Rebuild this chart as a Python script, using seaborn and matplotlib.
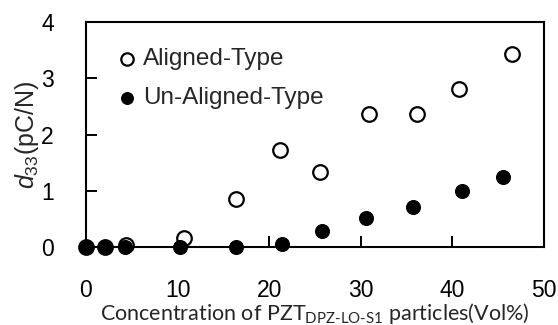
import pandas as pd
import matplotlib.pyplot as plt
import seaborn as sns

# values
aligned_x = [0, 2.1, 4.4, 10.7, 16.4, 21.2, 25.6, 30.9, 36.1, 40.7, 46.5]
aligned_y = [0, 0, 0.04, 0.16, 0.85, 1.72, 1.34, 2.37, 2.37, 2.81, 3.44]
unaligned_x = [0, 2.1, 4.3, 10.3, 16.4, 21.4, 25.8, 30.6, 35.7, 41.0, 45.5]
unaligned_y = [0, 0, 0, 0, 0, 0.06, 0.29, 0.51, 0.72, 1.0, 1.24]

x_ticks = [0, 10, 20, 30, 40, 50]
y_ticks = [0, 1, 2, 3, 4]

aligned = pd.DataFrame({'conc': aligned_x, 'd33': aligned_y})
unaligned = pd.DataFrame({'conc': unaligned_x, 'd33': unaligned_y})

sns.set_style('ticks')
plt.rcParams['font.family'] = ['Liberation Sans', 'DejaVu Sans']
plt.rcParams['mathtext.fontset'] = 'custom'
plt.rcParams['mathtext.rm'] = 'Lato'
plt.rcParams['mathtext.sf'] = 'Liberation Sans'
plt.rcParams['mathtext.it'] = 'Liberation Sans:italic'

fig = plt.figure(figsize=(5.58, 3.25), dpi=100)
ax = fig.add_axes([0.154, 0.24, 0.821, 0.692])

sns.scatterplot(ax=ax, data=aligned, x='conc', y='d33', s=110, marker='o',
                facecolor='white', edgecolor='black', linewidth=1.6,
                label='Aligned-Type', clip_on=False, zorder=3)
sns.scatterplot(ax=ax, data=unaligned, x='conc', y='d33', s=100, marker='o',
                color='black', edgecolor='black', linewidth=0.8,
                label='Un-Aligned-Type', clip_on=False, zorder=4)

ax.set_xlim(0, 50)
ax.set_ylim(0, 4)
ax.set_xticks(x_ticks)
ax.set_yticks(y_ticks)
ax.tick_params(direction='in', length=8, width=1.4, labelsize=16.5,
               colors='black')
ax.tick_params(axis='x', pad=23)
ax.tick_params(axis='y', pad=23)
for sp in ax.spines.values():
    sp.set_linewidth(1.5)
    sp.set_color('black')

ax.set_xlabel('Concentration of PZT$_{\\mathregular{DPZ\\text{-}LO\\text{-}S1}}$ particles(Vol%)',
              fontsize=15.5, family='Lato', labelpad=-1)
ax.set_ylabel('$d_{\\mathsf{33}}$(pC/N)', fontsize=18, labelpad=0)

ax.legend(loc='upper left', bbox_to_anchor=(0.047, 0.928), frameon=False,
          fontsize=17.5, handlelength=0.8, handletextpad=0.26,
          labelspacing=0.7, borderaxespad=0, markerscale=0.85)

fig.savefig('out.png', dpi=100)
